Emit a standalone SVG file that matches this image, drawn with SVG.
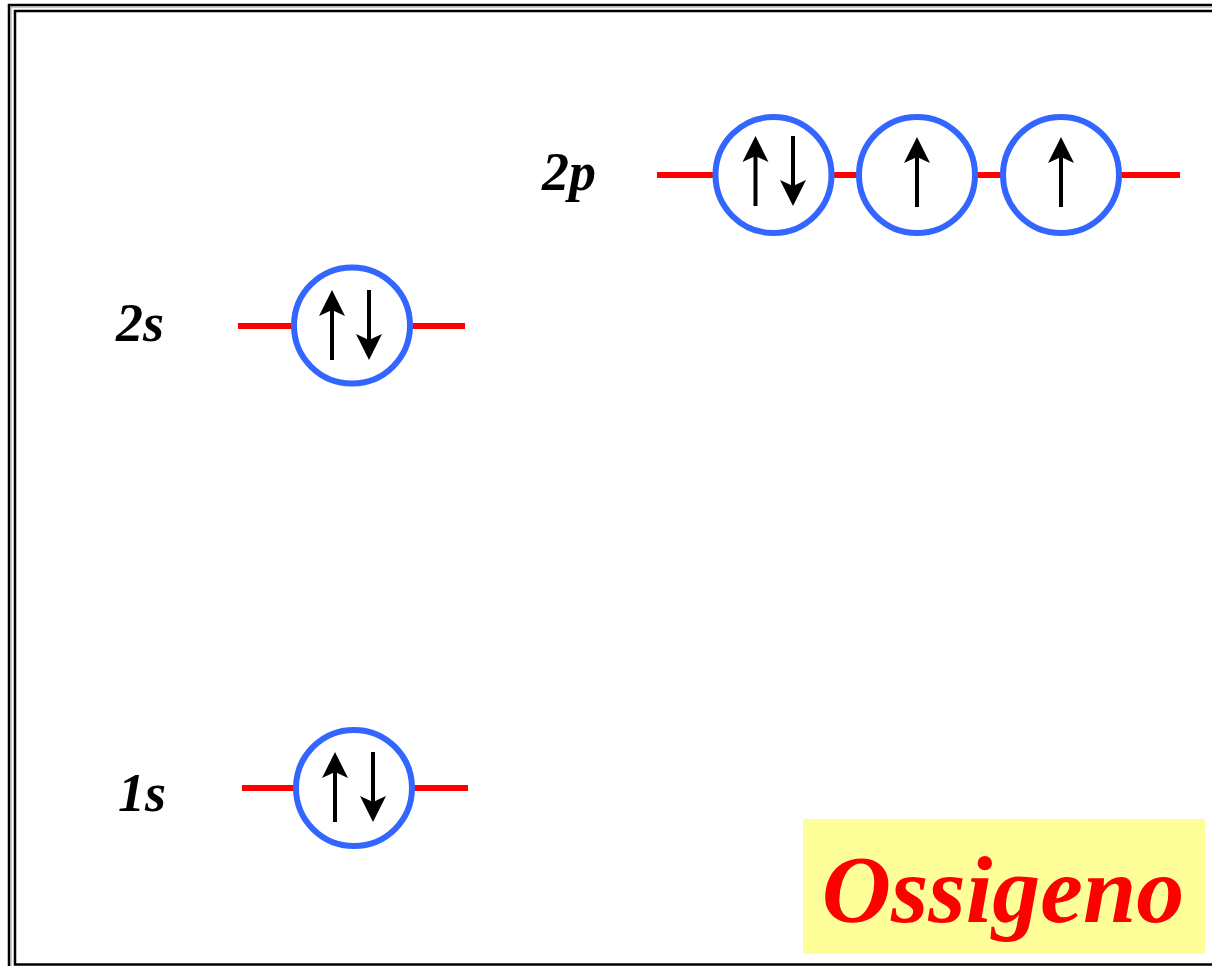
<svg xmlns="http://www.w3.org/2000/svg" width="1212" height="966" viewBox="0 0 1212 966">
<defs>
<style>
.orb{fill:#fff;stroke:#3366FF;stroke-width:6}
.lvl{stroke:#FF0000;stroke-width:6;fill:none}
.lbl{font-family:"Liberation Serif","Times New Roman",serif;font-weight:bold;font-style:italic;font-size:54px;fill:#000}
.shaft{stroke:#000;stroke-width:4}
</style>
<g id="up">
<line class="shaft" x1="0" y1="70" x2="0" y2="18"/>
<polygon points="0,0 -13,26 0,20 13,26" fill="#000"/>
</g>
<g id="down">
<line class="shaft" x1="0" y1="0" x2="0" y2="52"/>
<polygon points="0,70 -13,44 0,50 13,44" fill="#000"/>
</g>
</defs>
<rect width="1212" height="966" fill="#fff"/>
<g id="border" fill="none">
<rect x="9" y="5" width="1220" height="980" stroke="#000" stroke-width="2.5"/>
<rect x="11" y="7" width="1216" height="976" stroke="#999" stroke-width="1"/>
<rect x="15" y="11" width="1210" height="953.5" stroke="#000" stroke-width="2.5"/>
</g>
<g id="connectors">
<line class="lvl" x1="657" y1="175" x2="1180" y2="175"/>
<line class="lvl" x1="238" y1="326" x2="465" y2="326"/>
<line class="lvl" x1="242" y1="788" x2="468" y2="788"/>
</g>
<g id="label-2p"><text class="lbl" x="542" y="190">2p</text></g>
<g id="label-2s"><text class="lbl" x="116" y="341">2s</text></g>
<g id="label-1s"><text class="lbl" x="118" y="811">1s</text></g>
<g id="orb-2p-1">
<circle class="orb" cx="773.5" cy="175" r="58"/>
<use href="#up" x="755.5" y="136"/>
<use href="#down" x="793" y="136"/>
</g>
<g id="orb-2p-2">
<circle class="orb" cx="917" cy="175" r="58"/>
<use href="#up" x="917" y="137"/>
</g>
<g id="orb-2p-3">
<circle class="orb" cx="1061" cy="175" r="58"/>
<use href="#up" x="1061" y="137"/>
</g>
<g id="orb-2s">
<circle class="orb" cx="352" cy="325.5" r="58"/>
<use href="#up" x="332" y="290"/>
<use href="#down" x="369" y="290"/>
</g>
<g id="orb-1s">
<circle class="orb" cx="354" cy="788" r="58"/>
<use href="#up" x="335" y="752"/>
<use href="#down" x="373" y="752"/>
</g>
<g id="title">
<rect x="803" y="819" width="402" height="135" fill="#FFFF99"/>
<text x="1003" y="922" text-anchor="middle" font-family="'Liberation Serif','Times New Roman',serif" font-weight="bold" font-style="italic" font-size="96" fill="#FF0000">Ossigeno</text>
</g>
</svg>
